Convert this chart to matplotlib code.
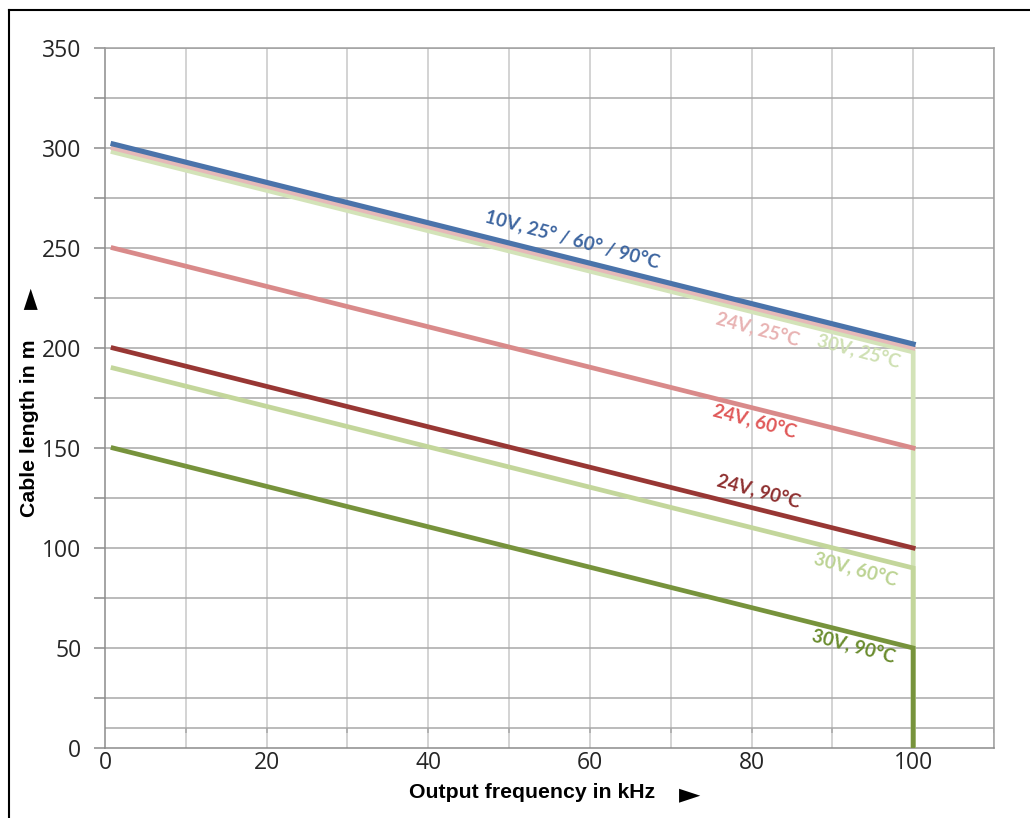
import matplotlib
matplotlib.use("Agg")
import matplotlib.pyplot as plt
from matplotlib.lines import Line2D

# ---- data ----
x_line = [1, 100]
x_drop = [1, 100, 100]
y_10v = [302, 202]
y_24v_25 = [300, 200]
y_30v_25 = [298, 198, 0]
y_24v_60 = [250, 150]
y_24v_90 = [200, 100]
y_30v_60 = [190, 90, 0]
y_30v_90 = [150, 50, 0]

x_ticks = [0, 20, 40, 60, 80, 100]
y_ticks = [0, 50, 100, 150, 200, 250, 300, 350]

labels = ["10V, 25° / 60° / 90°C", "24V, 25°C", "30V, 25°C", "24V, 60°C",
          "24V, 90°C", "30V, 60°C", "30V, 90°C"]
label_x = [57.8, 80.7, 93.2, 80.4, 80.9, 92.8, 92.6]
label_y = [254, 209, 198, 163, 128, 89, 50.5]
label_colors = ["#3d65a0", "#e8b2b2", "#cfe0b3", "#e05858", "#8e2f2f", "#bcd393", "#6a8c2e"]

c_blue = "#4a73aa"
c_pink = "#e6b9b8"
c_lg25 = "#d3e3b8"
c_red60 = "#d98a8a"
c_red90 = "#983734"
c_lg60 = "#c3d69b"
c_olive = "#77933c"

fig = plt.figure(figsize=(10.30, 8.18), dpi=100)
ax = fig.add_axes([105/1030, 1-748/818, (994-105)/1030, (748-48)/818])

ax.set_xlim(0, 110)
ax.set_ylim(0, 350)

# grid
for xv in range(10, 111, 10):
    ax.axvline(xv, color="#c8c8c8", lw=1.1, zorder=0)
for yv in range(25, 351, 25):
    ax.axhline(yv, color="#a8a8a8", lw=1.1, zorder=0)
ax.axhline(10, color="#a8a8a8", lw=1.1, zorder=0)
ax.vlines(range(10, 111, 10), 7.5, 10, color="#a8a8a8", lw=1.1, zorder=0)

for s in ax.spines.values():
    s.set_color("#a0a0a0")
    s.set_linewidth(1.1)
ax.spines["left"].set_color("#8c8c8c")
ax.spines["bottom"].set_color("#8c8c8c")

lw = 3.4
ax.plot(x_drop, y_30v_25, color=c_lg25, lw=lw, zorder=3, solid_joinstyle="miter")
ax.plot(x_line, y_24v_25, color=c_pink, lw=lw, zorder=4)
ax.plot(x_line, y_10v, color=c_blue, lw=lw + 0.3, zorder=5)
ax.plot(x_line, y_24v_60, color=c_red60, lw=lw, zorder=3)
ax.plot(x_line, y_24v_90, color=c_red90, lw=lw, zorder=3)
ax.plot(x_drop, y_30v_60, color=c_lg60, lw=lw, zorder=3, solid_joinstyle="miter")
ax.plot(x_drop, y_30v_90, color=c_olive, lw=lw, zorder=4, solid_joinstyle="miter")

for t, lx, ly, c in zip(labels, label_x, label_y, label_colors):
    ax.text(lx, ly, t, color=c, rotation=-15, ha="center", va="center",
            fontsize=13.5, fontfamily="Lato", fontweight="bold",
            rotation_mode="anchor", zorder=6)

ax.set_xticks(x_ticks)
ax.set_yticks(range(0, 351, 25))
ax.set_yticklabels([str(v) if v % 50 == 0 else "" for v in range(0, 351, 25)])
ax.tick_params(axis="x", length=0, pad=2, labelsize=16.5, labelcolor="#262626")
ax.tick_params(axis="y", length=8, width=1.1, color="#8c8c8c", pad=9,
               labelsize=16.5, labelcolor="#262626")
for lab in ax.get_xticklabels() + ax.get_yticklabels():
    lab.set_fontfamily("Open Sans")

fig.text(532/1030, 1-792/818, "Output frequency in kHz", ha="center", va="center",
         fontsize=15.3, fontweight="bold", fontfamily=["Liberation Sans", "DejaVu Sans"])
fig.text(690/1030, 1-794/818, "►", ha="center", va="center",
         fontsize=20, fontfamily="DejaVu Sans", color="black")
fig.text(30/1030, 1-428/818, "Cable length in m", ha="center", va="center",
         rotation=90, fontsize=15.3, fontweight="bold",
         fontfamily=["Liberation Sans", "DejaVu Sans"])
fig.text(30/1030, 1-298/818, "►", ha="center", va="center", rotation=90,
         fontsize=20, fontfamily="DejaVu Sans", color="black")

# figure border (left and top)
fig.add_artist(Line2D([9/1030, 9/1030], [0, 1-10/818], color="black", lw=1.5,
                      transform=fig.transFigure))
fig.add_artist(Line2D([9/1030, 1], [1-10/818, 1-10/818], color="black", lw=1.5,
                      transform=fig.transFigure))

fig.savefig("out.png", dpi=100)
